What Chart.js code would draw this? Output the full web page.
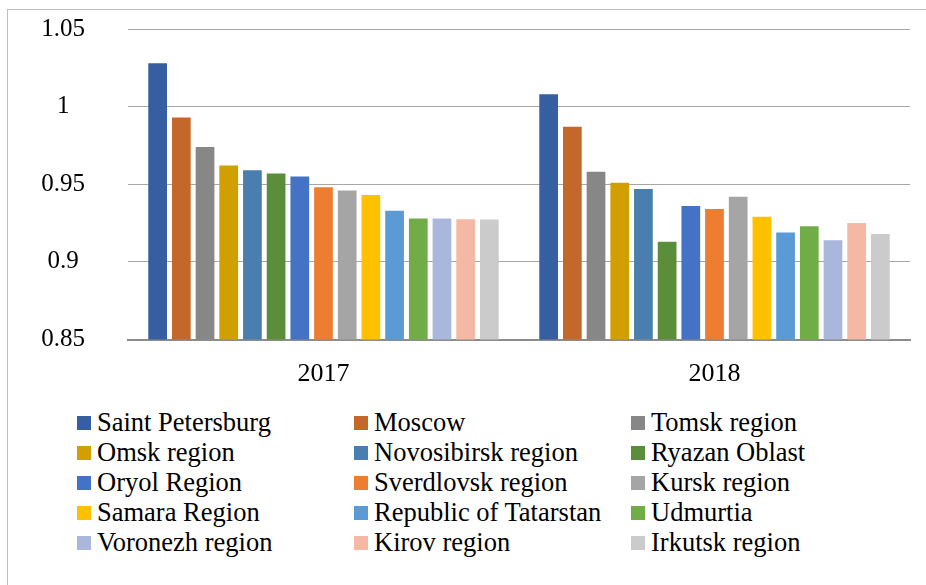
<!DOCTYPE html>
<html>
<head>
<meta charset="utf-8">
<script src="https://cdn.jsdelivr.net/npm/chart.js@4"></script>
<style>
  body { margin: 0; background: #fff; overflow: hidden; }
  #frame {
    position: absolute; left: 7px; top: 9px;
    width: 1000px; height: 1000px;
    border: 1px solid #bfbfbf;
  }
  #wrap { position: absolute; left: 0; top: 0; width: 926px; height: 400px; }
  #legend { position: absolute; left: 0; top: 0; }
  .item {
    position: absolute; display: flex; align-items: center;
    height: 30px; line-height: 30px; white-space: nowrap;
    font-family: "Liberation Serif", "DejaVu Serif", Times, serif;
    font-size: 26.5px; color: #000;
  }
  .box { width: 14px; height: 14px; margin-right: 6px; margin-top: 2px; }
</style>
</head>
<body>
<div id="frame"></div>
<div id="wrap"><canvas id="chart" width="926" height="400"></canvas></div>
<div id="legend"></div>

<script>
/* =========================
  Data
========================= */
const years = ["2017", "2018"];

const regions = [
  "Saint Petersburg", "Moscow", "Tomsk region",
  "Omsk region", "Novosibirsk region", "Ryazan Oblast",
  "Oryol Region", "Sverdlovsk region", "Kursk region",
  "Samara Region", "Republic of Tatarstan", "Udmurtia",
  "Voronezh region", "Kirov region", "Irkutsk region"
];

const colors = [
  "#355fa0", "#c4672a", "#878787",
  "#d29f00", "#4a7eaf", "#5b8e3a",
  "#4472c4", "#ed7d31", "#a5a5a5",
  "#ffc000", "#5b9bd5", "#70ad47",
  "#a9b7dc", "#f4b8a4", "#cbcbcb"
];

const values2017 = [
  1.028, 0.993, 0.974, 0.962, 0.959, 0.957, 0.955, 0.948,
  0.946, 0.943, 0.933, 0.928, 0.928, 0.9275, 0.9273
];

const values2018 = [
  1.008, 0.987, 0.958, 0.951, 0.947, 0.913, 0.936, 0.934,
  0.942, 0.929, 0.919, 0.923, 0.914, 0.925, 0.918
];

const yTicks = [0.85, 0.9, 0.95, 1, 1.05];

const font = "'Liberation Serif', 'DejaVu Serif', Times, serif";

/* =========================
  Chart
========================= */
const datasets = regions.map((name, i) => ({
  label: name,
  data: [values2017[i], values2018[i]],
  backgroundColor: colors[i],
  categoryPercentage: 0.909,
  barPercentage: 0.79
}));

new Chart(document.getElementById("chart"), {
  type: "bar",
  data: { labels: years, datasets },
  options: {
    responsive: false,
    animation: false,
    layout: { padding: { top: 29, right: 16, left: 0, bottom: 0 } },
    plugins: {
      legend: { display: false },
      tooltip: { enabled: false }
    },
    scales: {
      x: {
        grid: { display: false, drawTicks: false },
        border: { color: "#8c8c8c", width: 2 },
        ticks: {
          color: "#000",
          padding: 19,
          font: { family: font, size: 26 }
        },
        afterFit: s => { s.height = 60.5; }
      },
      y: {
        min: yTicks[0],
        max: yTicks[yTicks.length - 1],
        afterBuildTicks: s => { s.ticks = yTicks.map(v => ({ value: v })); },
        grid: { color: "#a6a6a6", lineWidth: 1, drawTicks: false },
        border: { display: false },
        ticks: {
          color: "#000",
          padding: 43,
          crossAlign: "center",
          font: { family: font, size: 25 },
          callback: v => String(+v.toFixed(2))
        },
        afterFit: s => {
          s.width = 128;
          s.paddingTop = 0;
          s.paddingBottom = 0;
        }
      }
    }
  }
});

/* =========================
  Legend (3 columns)
========================= */
const legend = document.getElementById("legend");
const colX = [77, 354, 631];
regions.forEach((name, i) => {
  const item = document.createElement("div");
  item.className = "item";
  item.style.left = colX[i % 3] + "px";
  item.style.top = (406.5 + Math.floor(i / 3) * 30) + "px";
  item.innerHTML = `<span class="box" style="background:${colors[i]}"></span><span>${name}</span>`;
  legend.appendChild(item);
});
</script>
</body>
</html>
